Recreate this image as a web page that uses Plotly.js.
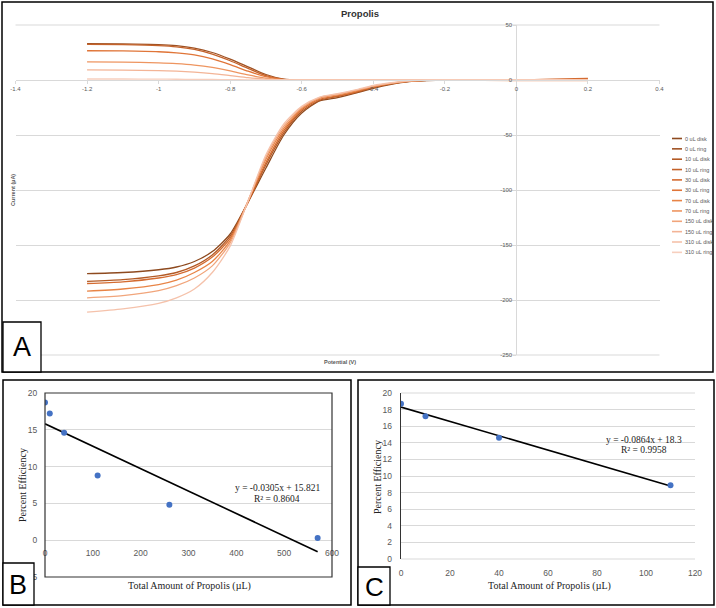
<!DOCTYPE html>
<html><head><meta charset="utf-8">
<script src="https://cdn.plot.ly/plotly-3.0.1.min.js"></script>
<style>html,body{margin:0;padding:0;background:#fff}#chart{width:716px;height:608px}</style>
</head><body><div id="chart"></div>
<script>
// ---------- Panel A data (RRDE voltammograms) ----------
const potential = [-1.2, -1.1, -1.0, -0.95, -0.9, -0.85, -0.8, -0.75, -0.7, -0.65, -0.6, -0.55, -0.5, -0.45, -0.4, -0.35, -0.3, -0.25, -0.2, 0, 0.2];

const disk_0uL   = [-176, -175, -172.5, -170, -165, -156, -140, -111, -80, -50, -30, -19, -16, -12, -7.5, -4, -1.5, -0.5, 0, 0, 0.3];
const ring_0uL   = [33, 32.8, 32.2, 31.2, 29, 25, 19, 12, 5, 0.8, 0, 0, 0, 0, 0, 0, 0, 0, 0, 0, 0];
const disk_10uL  = [-183, -181.5, -178, -175, -169, -159, -142, -111, -77, -48, -28.5, -18.5, -15, -11.5, -7, -3.5, -1.3, -0.4, 0, 0.3, 0.2];
const ring_10uL  = [32.3, 32.1, 31.3, 30.2, 27.8, 23.5, 17.5, 10.5, 4, 0.5, 0, 0, 0, 0, 0, 0, 0, 0, 0, 0, 0];
const disk_30uL  = [-185, -183.5, -180, -177, -171, -161, -144, -111, -75, -46, -27, -17.5, -14.5, -11, -6.5, -3.2, -1.2, -0.3, 0, 0.1, 1.5];
const ring_30uL  = [26.6, 26.4, 25.7, 24.7, 22.8, 19.2, 14, 8, 3, 0.3, 0, 0, 0, 0, 0, 0, 0, 0, 0, 0, 0];
const disk_70uL  = [-192, -190, -186, -182, -175, -165, -146, -110, -72, -44, -26, -16.5, -13.5, -10, -6, -3, -1, -0.3, 0, 0, 0];
const ring_70uL  = [16.4, 16.2, 15.6, 14.9, 13.6, 11.4, 8.2, 4.6, 1.6, 0.1, 0, 0, 0, 0, 0, 0, 0, 0, 0, 0, 0];
const disk_150uL = [-198, -196, -191.5, -187, -180, -169, -148, -110, -70, -42, -25, -16, -13, -9.5, -5.5, -2.8, -1, -0.2, 0, -0.5, -0.5];
const ring_150uL = [9.2, 9.0, 8.5, 8.0, 7.1, 5.8, 4.0, 2.1, 0.7, 0, 0, 0, 0, 0, 0, 0, 0, 0, 0, 0, 0];
const disk_310uL = [-211, -208, -203, -198, -190, -175, -151, -110, -68, -40, -24, -15.5, -12.5, -9, -5, -2.5, -0.8, -0.2, 0, 0, 0];
const ring_310uL = [0.9, 0.9, 0.8, 0.7, 0.6, 0.5, 0.35, 0.2, 0.1, 0, 0, 0, 0, 0, 0, 0, 0, 0, 0, 0, 0];

const seriesNames = ['0 uL disk','0 uL ring','10 uL disk','10 uL ring','30 uL disk','30 uL ring','70 uL disk','70 uL ring','150 uL disk','150 uL ring','310 uL disk','310 uL ring'];
const seriesData = [disk_0uL, ring_0uL, disk_10uL, ring_10uL, disk_30uL, ring_30uL, disk_70uL, ring_70uL, disk_150uL, ring_150uL, disk_310uL, ring_310uL];
const seriesColors = ['#8E4A1F','#9F5224','#B35A25','#C4622A','#D46B30','#E07538','#E88446','#EE9560','#F1A57B','#F3B496','#F5C2AB','#F7CFBE'];

const xTicksA = [-1.4, -1.2, -1, -0.8, -0.6, -0.4, -0.2, 0, 0.2, 0.4];
const xTickTextA = ['-1.4','-1.2','-1','-0.8','-0.6','-0.4','-0.2','0','0.2','0.4'];
const yTicksA = [50, 0, -50, -100, -150, -200, -250];
const yTickTextA = ['50','0','-50','-100','-150','-200','-250'];

// ---------- Panel B data ----------
const amountB = [0, 10, 40, 110, 260, 570];
const efficiencyB = [18.7, 17.2, 14.6, 8.8, 4.8, 0.3];
const trendAmountB = [0, 570];
const trendEfficiencyB = [15.821, -1.56];
const xTicksB = [0, 100, 200, 300, 400, 500, 600];
const yTicksB = [-5, 0, 5, 10, 15, 20];

// ---------- Panel C data ----------
const amountC = [0, 10, 40, 110];
const efficiencyC = [18.7, 17.2, 14.6, 8.9];
const trendAmountC = [0, 110];
const trendEfficiencyC = [18.3, 8.8];
const xTicksC = [0, 20, 40, 60, 80, 100, 120];
const yTicksC = [0, 2, 4, 6, 8, 10, 12, 14, 16, 18, 20];

// ---------- helpers (pixel -> paper) ----------
const W = 716, H = 608;
const fx = p => p / W;
const fy = p => 1 - p / H;

const traces = [];
seriesData.forEach((ys, i) => {
  traces.push({
    type: 'scatter', mode: 'lines', name: seriesNames[i],
    x: potential, y: ys, xaxis: 'x', yaxis: 'y',
    line: {color: seriesColors[i], width: 1.3, shape: 'spline', smoothing: 0.7},
    hoverinfo: 'skip'
  });
});
traces.push({type:'scatter', mode:'lines', x: trendAmountB, y: trendEfficiencyB, xaxis:'x2', yaxis:'y2', line:{color:'#000', width:1.6}, name:'Linear B'});
traces.push({type:'scatter', mode:'markers', x: amountB, y: efficiencyB, xaxis:'x2', yaxis:'y2', marker:{color:'#4472C4', size:6}, name:'B'});
traces.push({type:'scatter', mode:'lines', x: trendAmountC, y: trendEfficiencyC, xaxis:'x3', yaxis:'y3', line:{color:'#000', width:1.6}, name:'Linear C'});
traces.push({type:'scatter', mode:'markers', x: amountC, y: efficiencyC, xaxis:'x3', yaxis:'y3', marker:{color:'#4472C4', size:6}, name:'C'});

const tickFontA = {family:'Liberation Sans, Arial, sans-serif', size:6, color:'#595959'};
const tickFontBC = {family:'Liberation Sans, Arial, sans-serif', size:8.5, color:'#595959'};
const serif = 'Liberation Serif, Times New Roman, serif';

// Panel geometry (pixels)
const aLeft = 15.5, aRight = 659.5, aTop = 25, aBottom = 355;
const bLeft = 45, bRight = 332, bTop = 393, bBottom = 577;
const cLeft = 401, cRight = 695, cTop = 393, cBottom = 559;

const layout = {
  width: W, height: H,
  margin: {l:0, r:0, t:0, b:0},
  paper_bgcolor: '#fff', plot_bgcolor: '#fff',
  showlegend: false,
  xaxis: {
    domain: [fx(aLeft), fx(aRight)], range: [-1.4, 0.4], anchor: 'free',
    position: fy(aBottom) + (250/300) * (fy(aTop) - fy(aBottom)),
    showgrid: false, zeroline: false, showline: true, linecolor: '#d9d9d9', linewidth: 1,
    ticks: 'outside', ticklen: 3, tickcolor: '#d9d9d9',
    tickmode: 'array', tickvals: xTicksA, ticktext: xTickTextA, tickfont: tickFontA
  },
  yaxis: {
    domain: [fy(aBottom), fy(aTop)], range: [-250, 50], anchor: 'free',
    position: fx(aLeft) + (1.4/1.8) * (fx(aRight) - fx(aLeft)),
    showgrid: true, gridcolor: '#d9d9d9', gridwidth: 1, zeroline: false,
    showline: true, linecolor: '#d9d9d9', linewidth: 1,
    ticks: 'outside', ticklen: 3, tickcolor: '#d9d9d9',
    tickmode: 'array', tickvals: yTicksA, ticktext: yTickTextA, tickfont: tickFontA
  },
  xaxis2: {
    domain: [fx(bLeft), fx(bRight)], range: [0, 600], anchor: 'free',
    position: fy(bBottom) + (5/25) * (fy(bTop) - fy(bBottom)),
    showgrid: false, zeroline: false, showline: false,
    ticks: 'outside', ticklen: 5, tickcolor: 'rgba(0,0,0,0)',
    tickmode: 'array', tickvals: xTicksB, tickfont: tickFontBC
  },
  yaxis2: {
    domain: [fy(bBottom), fy(bTop)], range: [-5, 20], anchor: 'x2',
    showgrid: true, gridcolor: '#d9d9d9', zeroline: false, showline: false,
    ticks: 'outside', ticklen: 5, tickcolor: 'rgba(0,0,0,0)',
    tickmode: 'array', tickvals: yTicksB, tickfont: tickFontBC
  },
  xaxis3: {
    domain: [fx(cLeft), fx(cRight)], range: [0, 120], anchor: 'y3',
    showgrid: false, zeroline: false, showline: false,
    ticks: 'outside', ticklen: 6, tickcolor: 'rgba(0,0,0,0)',
    tickmode: 'array', tickvals: xTicksC, tickfont: tickFontBC
  },
  yaxis3: {
    domain: [fy(cBottom), fy(cTop)], range: [0, 20], anchor: 'x3',
    showgrid: true, gridcolor: '#d9d9d9', zeroline: false,
    showline: true, linecolor: '#333', linewidth: 1.3,
    ticks: 'outside', ticklen: 6, tickcolor: 'rgba(0,0,0,0)',
    tickmode: 'array', tickvals: yTicksC, tickfont: tickFontBC
  },
  shapes: [],
  annotations: []
};

// edge gridlines (Plotly omits gridlines lying on the domain edges)
function edgeGrid(x0, x1, y) {
  layout.shapes.push({type:'line', xref:'paper', yref:'paper', x0:fx(x0), x1:fx(x1), y0:fy(y), y1:fy(y),
    line:{color:'#d9d9d9', width:1}, layer:'below'});
}
edgeGrid(aLeft, aRight, aTop);
edgeGrid(aLeft, aRight, aBottom);
edgeGrid(cLeft, cRight, cTop);
edgeGrid(cLeft, cRight, cBottom);

function rect(x0, y0, x1, y1, w, fill) {
  layout.shapes.push({type:'rect', xref:'paper', yref:'paper', x0:fx(x0), x1:fx(x1), y0:fy(y1), y1:fy(y0),
    line:{color:'#000', width:w}, fillcolor: fill || 'rgba(0,0,0,0)', layer:'above'});
}
// panel frames
rect(2, 2, 713, 372, 1.5);
rect(3, 380, 351, 605, 1.5);
rect(358, 380, 714, 605, 1.5);
// plot-area border of B
layout.shapes.push({type:'rect', xref:'x2 domain', yref:'y2 domain', x0:0, x1:1, y0:0, y1:1, line:{color:'#333', width:1.2}, layer:'above'});
// label boxes
rect(3, 322, 41, 372, 1.3, '#fff');
rect(3, 563, 34, 605, 1.3, '#fff');
rect(358, 567, 390, 605, 1.3, '#fff');

function ann(text, x, y, opts) {
  layout.annotations.push(Object.assign({text, x:fx(x), y:fy(y), xref:'paper', yref:'paper', showarrow:false,
    xanchor:'center', yanchor:'middle', font:{family:'Liberation Sans, Arial, sans-serif', size:8, color:'#000'}}, opts || {}));
}
// panel labels
ann('A', 22, 347, {font:{family:'Liberation Sans, Arial, sans-serif', size:27, color:'#000'}});
ann('B', 18, 585, {font:{family:'Liberation Sans, Arial, sans-serif', size:27, color:'#000'}});
ann('C', 374, 587, {font:{family:'Liberation Sans, Arial, sans-serif', size:26, color:'#000'}});

// Panel A texts
ann('<b>Propolis</b>', 360, 13, {font:{family:'Liberation Sans, Arial, sans-serif', size:9.5, color:'#333'}});
ann('<b>Current (µA)</b>', 13, 190, {textangle:-90, font:{family:'Liberation Sans, Arial, sans-serif', size:5.5, color:'#595959'}});
ann('<b>Potential (V)</b>', 340, 362, {font:{family:'Liberation Sans, Arial, sans-serif', size:5.5, color:'#595959'}});

// Panel A legend
seriesNames.forEach((nm, i) => {
  const y = 138.5 + i * 10.35;
  layout.shapes.push({type:'line', xref:'paper', yref:'paper', x0:fx(672), x1:fx(682), y0:fy(y), y1:fy(y),
    line:{color: seriesColors[i], width:1.6}});
  ann(nm, 683, y, {xanchor:'left', font:{family:'Liberation Sans, Arial, sans-serif', size:5.5, color:'#595959'}});
});

// Panel B texts
ann('Percent Efficiency', 22, 485, {textangle:-90, font:{family:serif, size:10, color:'#222'}});
ann('Total Amount of Propolis (µL)', 189, 586, {font:{family:serif, size:10, color:'#222'}});
ann('y = -0.0305x + 15.821', 277, 488, {font:{family:serif, size:9.5, color:'#222'}});
ann('R² = 0.8604', 277, 499, {font:{family:serif, size:9.5, color:'#222'}});

// Panel C texts
ann('Percent Efficiency', 377, 477, {textangle:-90, font:{family:serif, size:10, color:'#222'}});
ann('Total Amount of Propolis (µL)', 549, 586, {font:{family:serif, size:10, color:'#222'}});
ann('y = -0.0864x + 18.3', 644, 440, {font:{family:serif, size:9.5, color:'#222'}});
ann('R² = 0.9958', 644, 450, {font:{family:serif, size:9.5, color:'#222'}});

Plotly.newPlot('chart', traces, layout, {displayModeBar:false, staticPlot:true});
</script>
</body></html>
